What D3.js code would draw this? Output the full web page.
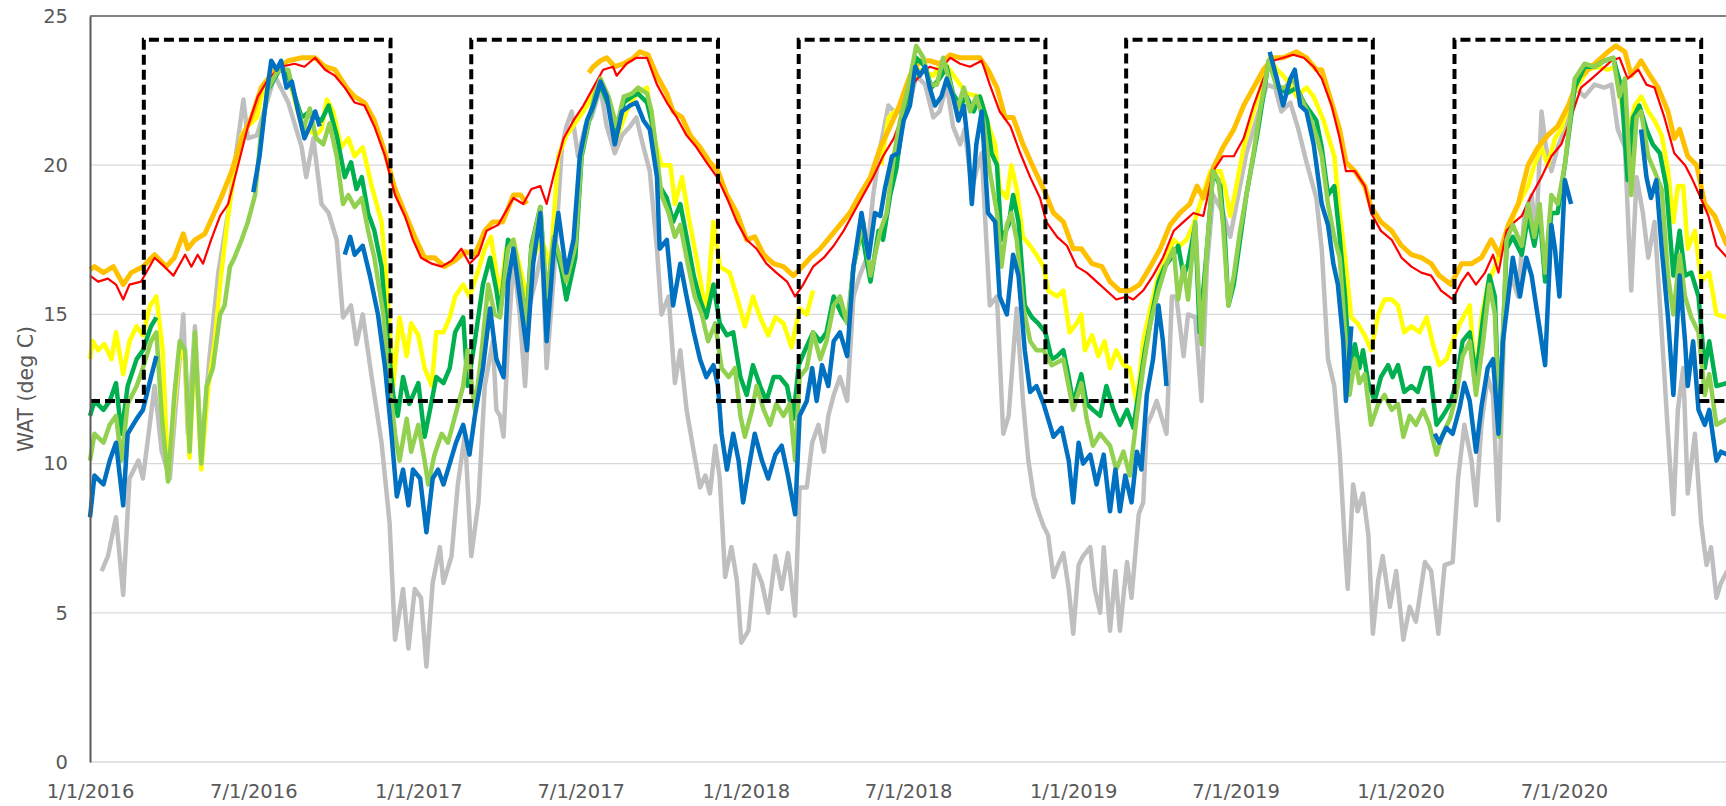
<!DOCTYPE html>
<html>
<head>
<meta charset="utf-8">
<script src="https://cdn.jsdelivr.net/npm/d3@7"></script>
<style>
  body { margin: 0; background: #fff; }
  svg { display: block; }
</style>
</head>
<body>
<svg id="chart"></svg>
<script>
// x values are days since 1/1/2016, y values are deg C; null = gap in the record
const startDate = "2016-01-01";
const yTicks = [0, 5, 10, 15, 20, 25];
const xTickLabels = ["2016-01-01", "2016-07-01", "2017-01-01", "2017-07-01", "2018-01-01",
  "2018-07-01", "2019-01-01", "2019-07-01", "2020-01-01", "2020-07-01"];

const targetDates = ["2016-01-01", "2016-03-01", "2016-12-01", "2017-03-01", "2017-12-01", "2018-03-01",
  "2018-12-01", "2019-03-01", "2019-12-01", "2020-03-01", "2020-12-01", "2021-01-01"];
const targetValues = [12.1, 24.2, 12.1, 24.2, 12.1, 24.2, 12.1, 24.2, 12.1, 24.2, 12.1, 12.1];

const gray = [[13,6.4],[20,6.9],[29,8.2],[37,5.6],[44,9.5],[54,10.1],[59,9.5],[72,12.6],[80,10.4],[89,9.5],[104,15.0],[109,11.0],[117,14.6],[124,10.3],[133,13.5],[143,16.4],[154,18.4],[163,20.4],[171,22.2],[176,20.9],[186,21.0],[206,23.0],[221,22.1],[236,20.6],[241,19.6],[249,20.9],[258,18.7],[266,18.4],[275,17.5],[282,14.9],[291,15.3],[297,14.0],[304,15.0],[314,12.9],[325,10.7],[334,8.0],[340,4.1],[349,5.8],[355,3.8],[362,5.8],[369,5.5],[375,3.2],[382,6.0],[390,7.2],[394,6.0],[403,6.9],[410,9.3],[418,11.0],[425,6.9],[433,8.7],[440,12.6],[449,14.1],[453,11.8],
  [457,11.6],[461,10.9],[466,14.1],[472,16.9],[479,15.0],[485,12.6],[490,15.3],[498,16.3],[504,17.2],[509,13.2],[517,16.3],[526,20.6],[531,21.3],[537,21.8],[544,20.3],[552,21.3],[559,21.6],[569,22.6],[576,21.3],[585,20.4],[593,21.0],[602,21.3],[609,21.6],[617,20.6],[624,19.8],[632,17.2],[637,15.0],[645,15.6],[652,12.7],[658,13.8],[665,11.8],[673,10.4],[680,9.2],[686,9.6],[691,9.0],[697,10.6],[702,9.5],[708,6.2],[715,7.2],[721,6.1],[726,4.0],[734,4.4],[741,6.6],[749,6.0],[756,5.0],[764,6.9],[771,5.8],[778,7.0],[786,4.9],[791,9.2],[799,9.2],[805,10.7],[812,11.3],[818,10.4],[823,11.6],[829,12.3],[836,12.9],[844,12.1],[851,15.6],[858,16.3],[866,16.9],[873,19.0],[881,20.6],[890,22.0],[896,21.8],[907,21.8],
  [914,22.1],[921,23.0],[931,22.7],[940,21.6],[947,21.8],[955,22.7],[962,21.3],[970,20.7],[975,21.2],[983,19.2],[988,19.8],[994,20.4],[1003,15.3],[1011,15.6],[1018,11.0],[1024,11.6],[1033,15.2],[1040,12.1],[1046,10.1],[1052,8.9],[1057,8.4],[1063,7.9],[1068,7.6],[1074,6.2],[1079,6.6],[1085,7.0],[1091,5.8],[1096,4.3],[1102,6.6],[1107,6.9],[1115,7.2],[1120,5.8],[1126,5.0],[1130,7.2],[1137,4.4],[1143,6.4],[1148,4.4],[1156,6.7],[1161,5.5],[1169,8.3],[1174,8.7],[1178,11.3],[1183,11.6],[1189,12.1],[1195,11.5],[1200,11.0],[1206,15.6],[1211,15.6],[1219,13.6],[1224,15.0],[1232,14.9],[1239,12.1],[1245,16.6],[1252,19.0],[1263,18.4],[1271,17.6],[1280,19.0],[1289,20.4],[1301,21.6],[1312,22.7],[1321,22.6],[1328,21.8],[1338,22.1],[1347,21.2],[1356,20.1],[1367,18.9],
  [1373,17.2],[1380,13.5],[1387,12.6],[1393,10.4],[1399,7.2],[1402,5.8],[1408,9.3],[1413,8.4],[1419,9.0],[1425,7.6],[1430,4.3],[1436,6.1],[1441,6.9],[1449,5.2],[1456,6.4],[1464,4.1],[1471,5.2],[1478,4.7],[1488,6.7],[1495,6.4],[1503,4.3],[1510,6.6],[1519,6.7],[1525,9.5],[1532,11.3],[1540,10.1],[1545,8.6],[1551,11.3],[1558,12.9],[1564,12.3],[1570,8.1],[1577,15.3],[1584,16.3],[1592,15.6],[1599,18.4],[1607,19.0],[1612,17.6],[1618,21.8],[1623,20.6],[1629,19.8],[1636,20.6],[1644,21.2],[1655,22.6],[1666,22.3],[1677,22.7],[1688,22.6],[1696,22.7],[1703,21.2],[1711,20.6],[1718,15.8],[1724,19.6],[1731,18.4],[1737,16.9],[1744,18.1],[1752,14.4],[1759,11.0],[1765,8.3],[1770,11.8],[1776,13.2],[1781,9.0],[1789,11.0],[1796,8.0],[1802,6.6],[1807,7.2],[1813,5.5],[1818,6.0],[1825,6.4]];

const yellow = [[0,13.5],[3,14.1],[9,13.8],[16,14.0],[24,13.5],[29,14.4],[37,13.0],[44,14.1],[52,14.6],[59,14.3],[67,15.3],[74,15.6],[81,13.8],[87,9.5],[94,12.0],[100,13.8],[106,13.5],[111,10.2],[117,14.2],[124,9.8],[132,12.6],[139,14.1],[146,16.3],[154,18.3],[161,19.8],[169,21.0],[176,21.3],[186,21.6],[191,22.3],[206,23.1],[213,23.2],[221,23.0],[236,21.3],[243,21.2],[252,21.0],[258,21.2],[264,22.2],[271,21.8],[280,20.6],[288,20.9],[295,20.3],[304,20.6],[314,19.3],[325,18.1],[332,15.6],[338,12.6],[345,14.9],[353,13.6],[358,14.7],[366,14.3],[373,13.2],[381,12.6],[386,14.4],[394,14.4],[401,14.9],[407,15.6],[416,16.0],[423,15.6],[431,16.3],[440,17.2],[447,17.6],
  [457,15.6],[464,17.2],[472,17.5],[479,16.6],[487,15.6],[494,16.9],[504,17.5],[513,16.6],[522,20.3],[531,21.0],[543,21.5],[554,22.0],[565,22.6],[569,22.9],[580,21.8],[587,20.9],[598,21.8],[609,22.4],[621,22.6],[628,21.0],[637,20.0],[647,20.0],[652,18.7],[660,19.6],[667,18.3],[676,16.9],[687,15.0],[695,18.1],[702,16.6],[713,16.4],[721,15.6],[730,14.6],[739,15.6],[747,14.9],[756,14.3],[764,14.9],[773,14.7],[782,13.9],[791,15.2],[799,15.0],[806,15.8],[807,null],
  [882,20.0],[890,21.6],[901,21.9],[914,22.8],[925,23.2],[940,23.0],[951,23.5],[977,22.4],[992,22.3],[1003,21.2],[1009,20.7],[1014,19.2],[1022,18.9],[1027,20.0],[1033,19.2],[1040,17.6],[1048,17.3],[1055,17.0],[1063,16.6],[1068,15.8],[1078,15.6],[1085,15.8],[1092,14.4],[1100,14.7],[1105,15.0],[1109,13.8],[1117,14.3],[1124,13.6],[1131,14.1],[1137,13.2],[1144,13.8],[1152,13.3],[1159,13.2],[1167,12.0],[1174,14.1],[1182,15.2],[1191,16.3],[1200,16.9],[1208,17.5],[1215,17.3],[1222,17.5],[1230,18.0],[1249,19.8],[1260,19.8],[1265,19.3],[1271,18.3],[1276,19.0],[1286,20.6],[1297,21.8],[1308,22.9],[1315,23.6],[1323,23.2],[1330,23.0],[1338,22.7],[1345,22.3],[1356,22.6],[1364,22.3],[1375,21.5],
  [1380,21.0],[1387,20.3],[1393,18.4],[1399,16.9],[1406,14.9],[1413,14.7],[1421,14.3],[1428,13.8],[1436,15.0],[1443,15.5],[1451,15.5],[1458,15.3],[1465,14.4],[1473,14.6],[1482,14.4],[1490,14.9],[1497,14.0],[1504,13.3],[1512,13.5],[1519,14.1],[1527,14.7],[1538,15.3],[1545,12.6],[1551,14.9],[1558,16.0],[1566,16.6],[1573,17.2],[1581,17.8],[1588,18.4],[1596,18.9],[1603,19.3],[1610,20.0],[1618,20.6],[1625,20.0],[1633,20.9],[1640,21.2],[1649,22.1],[1659,22.7],[1670,23.2],[1681,23.3],[1692,23.2],[1700,23.3],[1707,22.1],[1714,21.0],[1722,22.0],[1729,22.3],[1737,21.8],[1744,21.5],[1752,21.0],[1759,19.8],[1765,18.1],[1770,19.3],[1776,19.3],[1781,17.2],[1789,17.8],[1796,16.1],[1805,16.4],[1813,15.0],[1825,14.9]];

const orange = [[0,16.5],[5,16.6],[15,16.4],[26,16.6],[37,16.0],[46,16.4],[59,16.6],[72,17.0],[85,16.6],[94,16.9],[104,17.7],[109,17.2],[117,17.5],[128,17.7],[137,18.3],[146,18.9],[158,19.8],[169,20.9],[180,21.6],[191,22.6],[206,23.2],[221,23.5],[236,23.6],[251,23.6],[262,23.3],[273,23.2],[286,22.6],[295,22.3],[306,22.1],[317,21.5],[329,20.4],[340,19.2],[351,18.4],[362,17.6],[373,16.9],[384,16.9],[395,16.6],[407,16.8],[418,17.1],[429,17.0],[440,17.8],[449,18.1],[460,18.1],
  [472,19.0],[480,19.0],[487,18.7],[488,null],
  [556,23.1],[561,23.3],[569,23.5],[576,23.6],[585,23.3],[595,23.4],[606,23.6],[613,23.8],[622,23.7],[632,23.0],[643,22.4],[650,21.8],[660,21.6],[669,21.0],[680,20.6],[691,20.1],[700,19.8],[710,19.0],[721,18.4],[732,17.5],[741,17.6],[751,17.0],[762,16.7],[773,16.6],[784,16.3],[791,16.5],[803,16.9],[814,17.2],[825,17.6],[836,18.0],[847,18.4],[858,19.0],[870,19.6],[881,20.6],[892,21.3],[901,21.9],
  [914,23.0],[925,23.5],[936,23.5],[947,23.4],[959,23.7],[970,23.6],[981,23.6],[992,23.6],[1001,23.2],[1011,22.6],[1020,21.6],[1029,21.6],[1040,20.7],[1052,19.9],[1063,19.2],[1074,18.4],[1085,18.1],[1096,17.2],[1105,17.2],[1117,16.7],[1128,16.6],[1137,16.1],[1148,15.8],[1159,15.8],[1170,16.0],[1182,16.6],[1193,17.2],[1204,18.0],[1215,18.4],[1226,18.7],[1234,19.3],[1241,18.9],[1252,19.9],[1263,20.6],[1275,21.2],[1286,22.0],[1297,22.6],[1308,23.2],[1319,23.6],[1330,23.6],[1345,23.8],[1356,23.6],[1367,23.2],
  [1373,23.2],[1384,22.1],[1393,21.2],[1400,20.1],[1410,19.8],[1421,19.3],[1428,18.6],[1439,18.1],[1451,17.8],[1462,17.3],[1473,17.0],[1484,16.9],[1495,16.7],[1504,16.3],[1517,16.0],[1529,16.7],[1540,16.7],[1551,16.9],[1562,17.5],[1571,17.0],[1581,18.0],[1592,18.7],[1603,20.0],[1614,20.6],[1625,21.0],[1636,21.3],[1648,22.0],[1659,22.9],[1670,23.2],[1681,23.5],[1692,23.8],[1701,24.0],[1711,23.8],[1718,23.0],[1729,23.5],[1739,23.0],[1748,22.6],[1759,21.8],[1766,20.9],[1772,21.2],[1781,20.3],[1791,20.0],[1800,18.7],[1811,18.3],[1825,17.3]];

const red = [[0,16.3],[9,16.1],[20,16.2],[29,16.0],[37,15.5],[44,16.0],[57,16.1],[72,16.9],[83,16.6],[93,16.3],[106,17.0],[113,16.6],[120,17.0],[126,16.7],[135,17.5],[145,18.3],[154,18.7],[165,20.0],[176,21.3],[187,22.3],[199,22.9],[213,23.3],[228,23.4],[239,23.3],[251,23.6],[262,23.2],[273,23.0],[284,22.6],[295,22.1],[306,22.0],[317,21.3],[329,20.3],[340,19.0],[351,18.3],[360,17.5],[369,16.9],[381,16.7],[392,16.6],[403,16.8],[414,17.2],[423,16.7],[433,17.0],[442,17.8],[455,18.0],
  [472,18.9],[483,18.7],[492,19.2],[502,19.3],[509,18.7],[518,19.8],[528,20.9],[539,21.5],[550,22.0],[561,22.6],[572,23.2],[583,23.3],[587,23.0],[598,23.4],[609,23.6],[621,23.6],[632,22.7],[643,22.1],[654,21.6],[665,21.0],[676,20.6],[687,20.1],[699,19.6],[710,18.9],[721,18.1],[732,17.5],[743,17.2],[754,16.7],[765,16.4],[777,16.1],[786,15.6],[795,16.0],[806,16.6],[818,16.9],[829,17.3],[840,17.8],[851,18.4],[862,19.0],[873,19.6],[884,20.3],[896,20.9],[907,21.8],
  [914,22.6],[925,23.0],[936,23.3],[947,23.2],[959,23.6],[970,23.4],[981,23.3],[994,23.5],[1003,22.7],[1014,21.8],[1026,21.3],[1037,20.4],[1048,19.6],[1059,18.9],[1066,18.1],[1078,17.6],[1089,17.3],[1100,16.6],[1111,16.4],[1122,16.1],[1133,15.8],[1144,15.5],[1156,15.6],[1163,15.5],[1174,15.8],[1185,16.3],[1196,16.9],[1208,17.8],[1219,18.1],[1230,18.4],[1241,18.3],[1252,19.8],[1263,20.3],[1275,20.3],[1286,20.9],[1297,22.0],[1308,22.9],[1319,23.5],[1330,23.6],[1341,23.7],[1353,23.6],[1364,23.3],
  [1373,22.9],[1384,22.0],[1393,20.9],[1400,19.8],[1410,19.8],[1421,19.3],[1428,18.4],[1439,17.8],[1451,17.5],[1462,16.9],[1473,16.6],[1484,16.4],[1495,16.3],[1506,15.8],[1519,15.5],[1529,16.1],[1536,16.4],[1545,16.0],[1555,16.4],[1564,17.0],[1570,16.4],[1579,17.8],[1588,18.1],[1596,18.3],[1607,19.0],[1618,19.6],[1629,20.3],[1640,20.7],[1651,21.6],[1662,22.6],[1674,22.9],[1685,23.2],[1696,23.5],[1705,23.6],[1714,22.9],[1726,23.2],[1735,22.7],[1744,22.6],[1755,21.6],[1766,20.4],[1778,20.0],[1785,19.6],[1794,19.0],[1804,18.3],[1813,17.3],[1825,16.9]];

const green = [[0,11.6],[5,12.1],[15,11.8],[22,12.1],[29,12.7],[35,11.0],[42,12.6],[52,13.5],[59,13.8],[68,14.6],[74,14.9],[75,null],
  [200,22.6],[213,23.3],[221,23.0],[236,21.6],[245,21.8],[252,21.6],[258,21.5],[266,22.0],[275,21.0],[284,19.6],[291,20.1],[297,19.2],[303,19.6],[310,18.4],[317,17.8],[325,16.6],[332,14.1],[338,12.3],[343,11.6],[349,12.9],[356,12.0],[366,12.7],[373,10.9],[379,11.8],[386,12.9],[394,12.7],[401,13.2],[407,14.4],[416,14.9],[421,12.6],[429,14.1],[438,16.0],[446,16.9],[453,15.8],
  [457,15.0],[466,17.5],[472,17.3],[479,16.1],[487,14.9],[492,17.3],[502,18.6],[509,15.3],[518,17.5],[526,16.4],[531,15.5],[541,16.9],[548,20.3],[557,21.6],[569,22.7],[578,22.0],[587,21.0],[595,22.1],[604,22.3],[611,22.4],[621,22.1],[628,21.2],[635,19.3],[643,18.9],[650,18.1],[658,18.7],[665,17.6],[673,16.3],[680,15.5],[687,14.9],[695,16.0],[702,14.7],[710,14.3],[717,14.4],[725,12.9],[732,12.3],[739,13.3],[747,12.6],[754,12.1],[762,12.9],[769,12.9],[777,12.6],[784,11.5],[790,13.3],[797,13.8],[806,14.4],[814,14.1],[821,14.4],[829,15.6],[838,15.0],[845,14.7],[851,16.6],[860,17.8],[870,16.1],[879,17.8],[884,17.5],[892,19.0],[899,19.9],[907,21.8],
  [914,22.7],[921,23.6],[931,23.3],[938,22.6],[947,22.9],[955,23.3],[962,22.4],[970,22.0],[977,22.3],[985,21.8],[992,22.3],[1000,21.5],[1005,20.4],[1011,20.0],[1016,17.5],[1024,18.0],[1029,19.0],[1035,18.1],[1042,15.3],[1050,14.9],[1057,14.7],[1065,14.4],[1072,13.5],[1078,13.6],[1085,13.8],[1091,12.9],[1096,12.0],[1105,13.0],[1111,12.0],[1118,11.8],[1126,11.6],[1133,12.6],[1141,11.8],[1148,11.3],[1156,11.8],[1163,11.2],[1170,12.6],[1176,13.8],[1183,14.9],[1191,16.1],[1198,16.6],[1208,17.0],[1213,17.3],[1219,16.3],[1224,16.7],[1232,18.0],[1237,14.4],[1245,17.2],[1252,19.8],[1260,19.3],[1265,17.6],[1269,15.3],[1275,16.0],[1282,17.5],[1289,19.0],[1301,21.0],[1314,23.5],[1323,22.7],[1334,22.4],[1345,22.6],[1353,22.1],[1360,21.8],[1367,21.5],
  [1373,20.6],[1380,19.0],[1387,19.3],[1393,17.6],[1399,15.6],[1404,13.2],[1410,14.0],[1415,13.2],[1419,13.8],[1425,12.7],[1432,12.1],[1439,12.9],[1447,13.3],[1452,12.9],[1458,13.3],[1465,12.4],[1473,12.6],[1480,12.4],[1488,13.2],[1493,13.2],[1501,11.3],[1508,11.6],[1516,12.0],[1523,12.7],[1530,14.1],[1538,14.4],[1545,12.9],[1553,14.9],[1560,16.3],[1566,15.6],[1571,11.3],[1579,17.2],[1586,17.6],[1596,17.0],[1603,18.3],[1610,17.3],[1616,18.4],[1622,16.1],[1629,18.4],[1636,18.4],[1644,20.0],[1655,22.6],[1666,23.3],[1677,23.3],[1688,23.5],[1698,23.6],[1707,22.6],[1714,19.5],[1720,21.6],[1727,22.0],[1735,21.2],[1742,20.7],[1750,20.4],[1757,19.3],[1765,16.3],[1772,17.8],[1778,16.3],[1785,16.4],[1793,15.6],[1800,13.2],[1805,14.1],[1813,12.6],[1825,12.7]];

const lightGreen = [[0,10.1],[5,11.0],[15,10.7],[22,11.3],[29,11.6],[35,10.1],[42,12.0],[52,12.6],[59,13.2],[68,14.1],[74,14.4],[80,11.6],[87,9.4],[94,12.3],[100,14.1],[106,13.8],[111,10.4],[117,14.4],[124,10.0],[130,12.6],[137,13.2],[145,15.0],[150,15.3],[156,16.6],[161,16.9],[169,17.5],[176,18.1],[184,19.0],[191,21.2],[199,22.6],[208,23.1],[213,23.2],[221,23.2],[228,22.3],[238,21.2],[245,21.9],[252,20.9],[260,20.7],[267,21.4],[275,20.3],[282,18.7],[288,19.0],[295,18.6],[303,18.9],[310,17.8],[317,16.9],[327,15.0],[334,12.7],[340,11.0],[345,10.1],[353,11.5],[358,10.4],[366,11.3],[373,10.1],[377,9.3],[384,10.3],[392,11.0],[399,10.7],[407,11.6],[416,12.6],[421,13.8],[429,11.8],[436,13.6],[444,16.0],[451,15.0],
  [457,14.9],[466,17.2],[472,17.5],[479,16.3],[487,14.7],[492,17.2],[502,18.6],[509,15.6],[517,17.6],[524,16.9],[531,16.1],[541,17.3],[548,20.4],[556,21.5],[563,22.4],[569,22.9],[578,22.3],[587,21.3],[595,22.3],[604,22.4],[611,22.6],[621,22.4],[626,21.8],[632,20.3],[637,19.0],[645,18.4],[652,17.6],[658,18.0],[665,16.9],[674,15.6],[682,15.0],[689,14.1],[697,14.7],[704,13.2],[712,12.9],[719,13.2],[725,11.6],[730,10.9],[738,11.8],[743,12.6],[751,11.8],[758,11.3],[765,12.0],[773,11.6],[780,12.0],[786,10.1],[791,12.9],[799,13.2],[806,14.4],[814,13.5],[821,14.1],[829,15.3],[836,15.6],[844,14.7],[851,16.6],[862,18.1],[870,16.3],[881,17.8],[888,18.4],[896,20.3],[903,21.5],[912,22.6],
  [914,22.9],[921,24.0],[929,23.6],[936,22.7],[944,22.7],[951,23.6],[959,22.7],[966,21.8],[974,22.6],[981,21.8],[988,22.3],[996,21.5],[1003,19.8],[1011,18.4],[1016,16.6],[1022,18.0],[1027,18.4],[1033,17.5],[1040,15.3],[1048,14.1],[1055,13.8],[1063,13.8],[1072,13.3],[1085,13.5],[1096,11.8],[1105,12.7],[1111,11.5],[1118,10.6],[1126,11.0],[1137,10.6],[1144,9.8],[1152,10.4],[1159,9.6],[1167,11.6],[1174,13.2],[1182,14.7],[1191,15.8],[1200,16.7],[1208,17.2],[1213,15.5],[1219,16.6],[1224,15.5],[1232,18.1],[1239,14.0],[1245,17.2],[1252,19.8],[1258,19.5],[1263,18.0],[1269,15.3],[1275,16.3],[1282,17.8],[1289,19.0],[1297,20.4],[1304,21.8],[1314,23.5],[1323,22.6],[1332,22.6],[1341,22.9],[1349,22.3],[1360,21.6],[1368,20.9],
  [1373,20.3],[1380,18.7],[1387,17.6],[1393,16.9],[1399,14.4],[1404,12.3],[1410,13.5],[1415,12.7],[1421,13.0],[1428,11.3],[1436,12.0],[1443,12.3],[1451,11.8],[1458,12.0],[1464,10.9],[1471,11.6],[1478,11.3],[1486,11.8],[1493,11.3],[1501,10.3],[1508,11.0],[1516,11.5],[1523,12.3],[1530,13.6],[1538,14.1],[1545,12.3],[1553,14.1],[1560,16.0],[1566,15.0],[1571,10.9],[1579,17.5],[1586,18.0],[1596,17.3],[1603,18.7],[1610,17.6],[1616,18.7],[1622,16.4],[1629,19.0],[1636,18.7],[1644,20.0],[1655,22.9],[1666,23.4],[1677,23.3],[1688,23.5],[1698,23.6],[1705,22.3],[1711,22.9],[1718,19.0],[1724,21.6],[1729,21.8],[1737,20.3],[1744,19.8],[1752,19.2],[1759,16.3],[1765,15.0],[1772,17.0],[1778,15.6],[1785,14.9],[1793,14.4],[1800,12.3],[1805,13.0],[1813,11.3],[1825,11.5]];

const blue = [[0,8.2],[5,9.6],[15,9.3],[22,10.1],[29,10.7],[37,8.6],[42,11.0],[52,11.5],[59,11.8],[68,12.9],[74,13.6],[75,null],
  [182,19.1],[189,20.3],[197,22.4],[202,23.5],[208,23.2],[213,23.5],[219,22.6],[225,22.8],[232,21.8],[239,20.9],[245,21.3],[251,21.8],[256,21.3],[257,null],
  [284,17.0],[290,17.6],[295,17.0],[304,17.3],[312,16.3],[321,15.0],[329,13.2],[336,11.0],[342,8.9],[349,9.8],[355,8.6],[360,9.8],[368,9.5],[375,7.7],[382,9.5],[388,9.8],[394,9.3],[399,9.8],[408,10.7],[416,11.3],[423,10.3],[429,11.6],[438,13.2],[446,15.2],[453,13.5],
  [457,13.2],[461,12.9],[466,16.1],[472,17.2],[479,15.6],[487,13.8],[494,16.7],[502,18.4],[509,14.1],[517,17.2],[522,18.4],[531,16.4],[539,17.5],[546,20.3],[554,21.5],[561,22.0],[569,22.8],[576,22.3],[585,20.7],[593,21.8],[602,22.0],[609,22.1],[617,21.5],[624,21.2],[632,19.6],[635,17.2],[643,17.5],[650,15.3],[658,16.7],[665,15.6],[673,14.4],[680,13.5],[687,12.9],[695,13.3],[700,12.6],[704,11.0],[710,9.8],[717,11.0],[723,10.1],[728,8.7],[734,9.8],[741,11.0],[749,10.1],[756,9.5],[764,10.3],[771,10.6],[778,9.6],[786,8.3],[791,11.6],[799,12.1],[805,13.2],[810,12.1],[816,13.3],[823,12.6],[829,14.1],[836,14.4],[844,13.6],[851,16.6],[860,18.4],[868,16.9],[875,18.4],[881,18.3],[886,19.2],[894,20.3],[901,20.4],[907,21.5],
  [914,22.0],[920,23.3],[925,23.0],[931,23.3],[936,22.6],[942,22.0],[949,22.3],[955,22.9],[962,22.3],[968,21.5],[974,22.0],[979,20.6],[983,18.7],[988,20.7],[994,21.8],[1001,18.4],[1009,18.1],[1014,15.6],[1022,15.0],[1029,17.0],[1035,16.3],[1042,13.8],[1048,12.4],[1055,12.6],[1063,12.0],[1068,11.5],[1074,10.9],[1083,11.2],[1091,10.1],[1096,8.7],[1102,10.7],[1107,10.0],[1115,10.3],[1122,9.3],[1130,10.3],[1137,8.4],[1143,9.8],[1148,8.4],[1154,9.6],[1161,8.7],[1167,10.4],[1172,9.8],[1178,12.3],[1185,13.5],[1191,15.3],[1196,14.1],[1200,12.6],[1201,null],
  [1315,23.8],[1323,22.9],[1330,22.0],[1338,22.9],[1343,23.2],[1349,22.0],[1356,21.8],[1364,20.7],
  [1373,18.7],[1380,18.0],[1386,16.7],[1391,16.0],[1397,14.1],[1400,12.1],[1406,14.6],[1407,null],
  [1499,11.0],[1504,10.7],[1512,11.2],[1519,11.0],[1527,11.9],[1532,12.7],[1538,12.1],[1545,10.4],[1551,11.9],[1558,13.2],[1564,13.5],[1570,11.0],[1575,14.1],[1581,15.6],[1586,16.9],[1594,15.6],[1601,16.9],[1607,16.3],[1614,14.9],[1622,13.3],[1629,18.0],[1633,17.2],[1638,15.6],[1644,19.5],[1651,18.7],[1652,null],
  [1729,21.2],[1735,19.6],[1740,18.9],[1746,19.5],[1752,17.2],[1759,14.9],[1765,12.3],[1772,16.3],[1778,14.1],[1781,12.6],[1787,14.1],[1793,11.8],[1800,11.3],[1805,11.8],[1813,10.1],[1818,10.4],[1825,10.3]];

const series = [
  { name: "gray", data: gray, color: "#BFBFBF", width: 4.5 },
  { name: "yellow", data: yellow, color: "#FFFF00", width: 4.5 },
  { name: "orange", data: orange, color: "#FFC000", width: 5 },
  { name: "red", data: red, color: "#FF0000", width: 2.2 },
  { name: "green", data: green, color: "#00B050", width: 4.5 },
  { name: "lightGreen", data: lightGreen, color: "#92D050", width: 4.5 },
  { name: "blue", data: blue, color: "#0070C0", width: 4.5 }
];

const W = 1726, H = 806;
const margin = { left: 90, top: 16, bottom: 44 };
const font = "DejaVu Sans";
const parse = d3.utcParse("%Y-%m-%d");
const t0 = parse(startDate);
const toDate = (d) => d3.utcDay.offset(t0, d);

const svg = d3.select("#chart").attr("width", W).attr("height", H);

const x = d3.scaleUtc()
  .domain([t0, parse("2021-01-01")])
  .range([margin.left, margin.left + 1827 * 0.8971]);
const y = d3.scaleLinear().domain([0, 25]).range([H - margin.bottom, margin.top]);

// gridlines
svg.append("g")
  .selectAll("line")
  .data(yTicks.filter((v) => v < 25))
  .join("line")
  .attr("x1", margin.left).attr("x2", W)
  .attr("y1", (d) => y(d)).attr("y2", (d) => y(d))
  .attr("stroke", "#D9D9D9").attr("stroke-width", 1.3);

svg.append("line")
  .attr("x1", margin.left).attr("x2", W)
  .attr("y1", y(25)).attr("y2", y(25))
  .attr("stroke", "#595959").attr("stroke-width", 1.5);

const line = d3.line()
  .defined((d) => d[1] != null)
  .x((d) => x(toDate(d[0])))
  .y((d) => y(d[1]));

const plot = svg.append("g");
plot.selectAll("path.series")
  .data(series)
  .join("path")
  .attr("class", "series")
  .attr("d", (s) => line(s.data))
  .attr("fill", "none")
  .attr("stroke", (s) => s.color)
  .attr("stroke-width", (s) => s.width)
  .attr("stroke-linejoin", "round");

const target = targetDates.map((d, i) => [parse(d), targetValues[i]]);
plot.append("path")
  .attr("d", d3.line().curve(d3.curveStepAfter).x((d) => x(d[0])).y((d) => y(d[1]))(target))
  .attr("fill", "none")
  .attr("stroke", "#000")
  .attr("stroke-width", 4)
  .attr("stroke-dasharray", "10,5");

// axes
const yAxis = svg.append("g")
  .attr("transform", `translate(${margin.left},0)`)
  .call(d3.axisLeft(y).tickValues(yTicks).tickSize(0).tickPadding(22))
  .attr("font-family", font)
  .attr("font-size", 19.5);
yAxis.select(".domain").attr("stroke", "#595959").attr("stroke-width", 2);
yAxis.selectAll("text").attr("fill", "#595959");

const xAxis = svg.append("g")
  .attr("transform", `translate(0,${y(0)})`)
  .call(d3.axisBottom(x)
    .tickValues(xTickLabels.map(parse))
    .tickFormat(d3.utcFormat("%-m/%-d/%Y"))
    .tickSize(0).tickPadding(22))
  .attr("font-family", font)
  .attr("font-size", 19.5);
xAxis.select(".domain").remove();
xAxis.selectAll("text").attr("fill", "#595959");

svg.append("text")
  .attr("transform", `translate(33,${(y(0) + y(25)) / 2}) rotate(-90)`)
  .attr("text-anchor", "middle")
  .attr("fill", "#595959")
  .attr("font-family", font)
  .attr("font-size", 20.5)
  .text("WAT (deg C)");
</script>
</body>
</html>
